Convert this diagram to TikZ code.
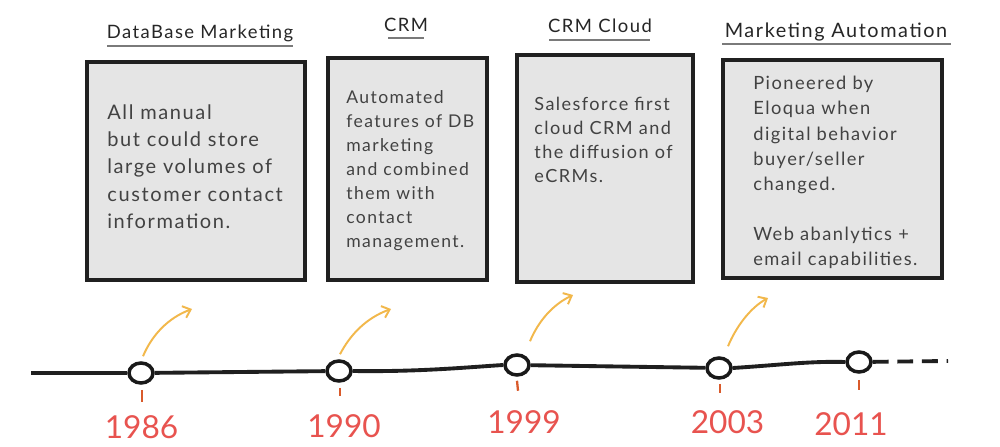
\documentclass[tikz,border=0pt]{standalone}
\usepackage{fontspec}
\setmainfont{Lato}
\newfontfamily\hand{Lato}[LetterSpace=8.0]
\usetikzlibrary{shapes.geometric,arrows.meta,calc}
\definecolor{cardfill}{HTML}{E5E5E5}
\definecolor{cardline}{HTML}{202020}
\definecolor{inktext}{HTML}{424242}
\definecolor{ulgray}{HTML}{7A7A7A}
\definecolor{yearred}{HTML}{E8534F}
\definecolor{tickred}{HTML}{D95A2B}
\definecolor{arrowyel}{HTML}{F2B84B}
\tikzset{
  card/.style={draw=cardline, line width=2.3pt, fill=cardfill, inner sep=0pt},
  cardtext/.style={anchor=north west, align=left, inner sep=0pt, text=inktext},
  heading/.style={anchor=base, inner sep=0pt, text=black!85, font=\hand\fontsize{10.5pt}{12pt}\selectfont},
  uline/.style={draw=ulgray, line width=1.3pt},
  event/.style={ellipse, draw=black!90, line width=2pt, fill=white, minimum width=0.48cm, minimum height=0.40cm, inner sep=0pt},
  axis/.style={draw=black!88, line width=2.2pt},
  tickmark/.style={draw=tickred, line width=1.3pt},
  yearlabel/.style={anchor=base, inner sep=0pt, text=yearred, font=\fontsize{18pt}{20pt}\selectfont},
  pointer/.style={draw=arrowyel, line width=1.1pt, -{Straight Barb[length=4pt,width=7pt]}}
}
\begin{document}
\begin{tikzpicture}[x=0.02cm, y=-0.02cm]
\useasboundingbox[fill=white] (0,0) rectangle (1000,446);

% headings
\node[heading] (h1) at (200,39) {DataBase Marketing};
\node[heading] (h2) at (406,32) {CRM};
\node[heading] (h3) at (600,33) {CRM Cloud};
\node[heading, font=\hand\fontsize{11.3pt}{12pt}\selectfont] (h4) at (836,38) {Marketing Automation};
\draw[uline] ($(h1.base)+(-93,7)$) -- ++(186,0);
\draw[uline] ($(h2.base)+(-18,6)$) -- ++(36,0);
\draw[uline] ($(h3.base)+(-51,7)$) -- ++(101,0);
\draw[uline] ($(h4.base)+(-114,6)$) -- ++(229,0);

% cards
\node[card, minimum width=4.36cm, minimum height=4.36cm] (b1) at (196,171) {};
\node[card, minimum width=3.18cm, minimum height=4.44cm] (b2) at (407.5,169) {};
\node[card, minimum width=3.52cm, minimum height=4.54cm] (b3) at (605,168.5) {};
\node[card, minimum width=4.38cm, minimum height=4.36cm] (b4) at (832.5,169) {};

\node[cardtext, font=\hand\fontsize{11.4pt}{15.6pt}\selectfont] (t1) at (107,104)
  {All manual\\but could store\\large volumes of\\customer contact\\information.};
\node[cardtext, font=\hand\fontsize{10pt}{13.7pt}\selectfont] (t2) at (346,90)
  {Automated\\features of DB\\marketing\\and combined\\them with\\contact\\management.};
\node[cardtext, font=\hand\fontsize{10.3pt}{13.6pt}\selectfont] (t3) at (534,97)
  {Salesforce first\\cloud CRM and\\the diffusion of\\eCRMs.};
\node[cardtext, font=\hand\fontsize{10.4pt}{14.3pt}\selectfont] (t4) at (753,76)
  {Pioneered by\\Eloqua when\\digital behavior\\buyer/seller\\changed.\\[14.3pt]Web abanlytics +\\email capabilities.};

% timeline
\coordinate (start) at (31,373);
\coordinate (finish) at (948,361);
\node[event] (c1) at (141,373) {};
\node[event] (c2) at (339,371) {};
\node[event] (c3) at (517,365) {};
\node[event] (c4) at (719,368) {};
\node[event] (c5) at (859,362) {};
\draw[axis] (start) -- (c1);
\draw[axis] (c1) -- (c2);
\draw[axis] (c2.east) .. controls (420,372) and (470,367) .. (c3.west);
\draw[axis] (c3) -- (c4);
\draw[axis] (c4.east) .. controls (780,365) and (810,361) .. (c5.west);
\draw[axis, dashed, dash pattern=on 9pt off 5pt] (c5) -- (finish);

% ticks
\draw[tickmark] ($(c1.south)+(1,5)$) -- ++(0,12);
\draw[tickmark] ($(c2.south)+(1,5)$) -- ++(0,8);
\draw[tickmark] ($(c3.south)+(0,4)$) -- ++(1,10);
\draw[tickmark] ($(c4.south)+(1,4)$) -- ++(0,9);
\draw[tickmark] ($(c5.south)+(0,6)$) -- ++(0,10);

% years
\node[yearlabel] (y1) at (141.5,438) {1986};
\node[yearlabel] (y2) at (344,437) {1990};
\node[yearlabel] (y3) at (524,433) {1999};
\node[yearlabel] (y4) at (727.5,433) {2003};
\node[yearlabel] (y5) at (851,435) {2011};

% arrows
\coordinate (p1) at (192,309);
\coordinate (p2) at (391,309);
\coordinate (p3) at (573,295);
\coordinate (p4) at (768,298);
\draw[pointer] ($(c1.north)+(2,-5)$) .. controls (152,335) and (168,318) .. (p1);
\draw[pointer] ($(c2.north)+(1,-5)$) .. controls (350,335) and (366,318) .. (p2);
\draw[pointer] ($(c3.north)+(13,-12)$) .. controls (538,322) and (552,305) .. (p3);
\draw[pointer] ($(c4.north)+(9,-10)$) .. controls (736,327) and (750,308) .. (p4);
\end{tikzpicture}
\end{document}
